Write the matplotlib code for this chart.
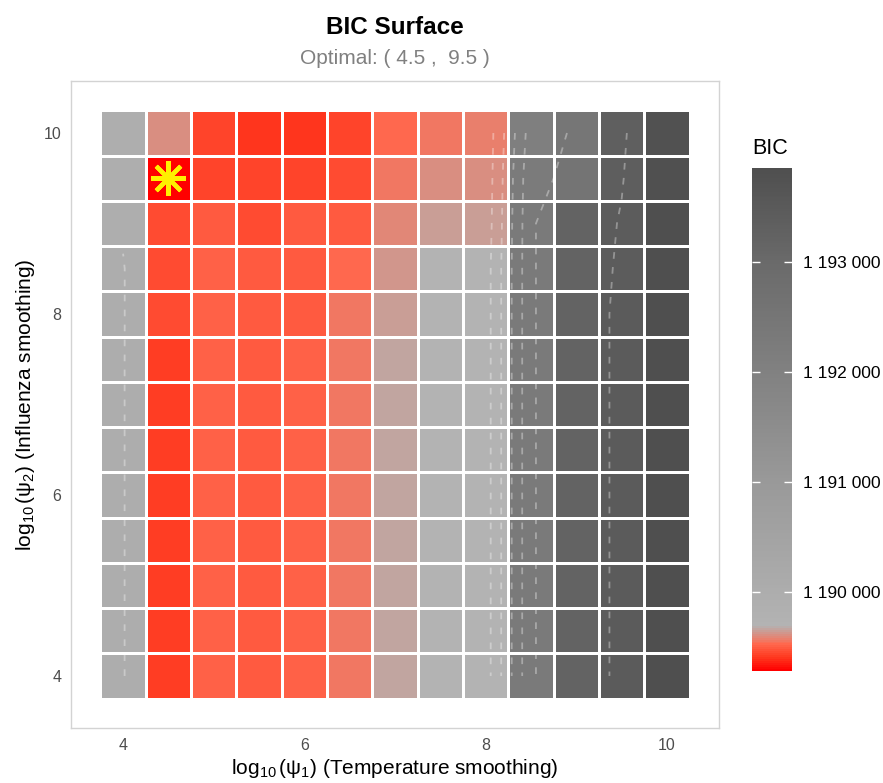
import numpy as np
import matplotlib.pyplot as plt
from matplotlib.colors import LinearSegmentedColormap, Normalize
from matplotlib.ticker import FuncFormatter

plt.rcParams['font.family'] = ['Liberation Sans', 'DejaVu Sans']
plt.rcParams['mathtext.fontset'] = 'custom'
plt.rcParams['mathtext.rm'] = 'Liberation Sans'
plt.rcParams['mathtext.it'] = 'Liberation Sans:italic'
plt.rcParams['mathtext.bf'] = 'Liberation Sans:bold'

# grid of smoothing parameters (log10 scale)
psi1 = [4.0, 4.5, 5.0, 5.5, 6.0, 6.5, 7.0, 7.5, 8.0, 8.5, 9.0, 9.5, 10.0]
psi2 = [4.0, 4.5, 5.0, 5.5, 6.0, 6.5, 7.0, 7.5, 8.0, 8.5, 9.0, 9.5, 10.0]

# BIC values, one row per psi2 (bottom to top), columns follow psi1
bic = [
    [1190020, 1189415, 1189505, 1189480, 1189505, 1189555, 1189661, 1189700, 1189710, 1192300, 1193206, 1193471, 1193850],
    [1190020, 1189415, 1189505, 1189480, 1189505, 1189555, 1189661, 1189700, 1189710, 1192300, 1193206, 1193471, 1193850],
    [1190020, 1189415, 1189505, 1189480, 1189505, 1189555, 1189661, 1189700, 1189710, 1192300, 1193206, 1193471, 1193850],
    [1190020, 1189415, 1189505, 1189480, 1189505, 1189555, 1189661, 1189700, 1189710, 1192300, 1193206, 1193471, 1193850],
    [1190020, 1189415, 1189505, 1189480, 1189505, 1189555, 1189661, 1189700, 1189710, 1192300, 1193206, 1193471, 1193850],
    [1190020, 1189415, 1189505, 1189480, 1189505, 1189555, 1189661, 1189700, 1189710, 1192300, 1193206, 1193471, 1193850],
    [1190020, 1189415, 1189505, 1189480, 1189505, 1189555, 1189661, 1189700, 1189710, 1192300, 1193206, 1193471, 1193850],
    [1190020, 1189420, 1189505, 1189480, 1189505, 1189558, 1189661, 1189700, 1189710, 1192300, 1193206, 1193471, 1193850],
    [1190020, 1189455, 1189500, 1189480, 1189490, 1189555, 1189643, 1189700, 1189710, 1192300, 1193206, 1193471, 1193850],
    [1190020, 1189455, 1189500, 1189480, 1189490, 1189530, 1189625, 1189700, 1189710, 1192300, 1193206, 1193447, 1193850],
    [1189960, 1189455, 1189480, 1189460, 1189480, 1189480, 1189603, 1189643, 1189643, 1192300, 1193206, 1193422, 1193850],
    [1189960, 1189282, 1189440, 1189440, 1189440, 1189455, 1189554, 1189605, 1189605, 1192250, 1192550, 1193380, 1193800],
    [1189960, 1189612, 1189427, 1189400, 1189400, 1189440, 1189520, 1189564, 1189571, 1192090, 1192480, 1193350, 1193780],
]

contour_levels = [1190000, 1190600, 1191200, 1191800, 1192400, 1193400]
best = (4.5, 9.5)
cbar_ticks = [1190000, 1191000, 1192000, 1193000]

# colour scale: red near the minimum, grey above
scale_vals = [1189282, 1189400, 1189520, 1189690, 1191000, 1192000, 1193000, 1193850]
scale_cols = ['#FF0000', '#FF3A20', '#FF6A50', '#B3B3B3', '#999999', '#818181', '#6A6A6A', '#4F4F4F']

Z = np.array(bic, dtype=float)
vmin, vmax = Z.min(), Z.max()
pos = np.clip([(v - vmin) / (vmax - vmin) for v in scale_vals], 0, 1)
pos[0], pos[-1] = 0.0, 1.0
cmap = LinearSegmentedColormap.from_list('bic', list(zip(pos, scale_cols)))
norm = Normalize(vmin=vmin, vmax=vmax)

fig = plt.figure(figsize=(8.83, 7.83), dpi=100)
ax = fig.add_axes([71/883, 1 - 728/783, 648/883, 647/783])

mesh = ax.pcolormesh(psi1, psi2, Z, shading='nearest', cmap=cmap, norm=norm,
                     edgecolors='white', linewidth=0.8)
ax.contour(psi1, psi2, Z, levels=contour_levels, colors='white', alpha=0.35,
           linewidths=1.3, linestyles=[(0, (3.7, 4.6))])
ax.plot(best[0], best[1], marker=(8, 2, 0), ms=25, mew=3, color='#FFF000', ls='none')

ax.set_xlim(3.425, 10.575)
ax.set_ylim(3.425, 10.575)
ax.set_xticks([4, 6, 8, 10])
ax.set_yticks([4, 6, 8, 10])
ax.tick_params(length=0, labelsize=11.5, labelcolor='#4D4D4D', pad=7)
for s in ax.spines.values():
    s.set_color('#D3D3D3')
    s.set_linewidth(1)

ax.set_xlabel(r'$\log_{10}(\mathrm{\psi}_1)$ (Temperature smoothing)', fontsize=15, labelpad=3)
ax.set_ylabel(r'$\log_{10}(\mathrm{\psi}_2)$ (Influenza smoothing)', fontsize=15, labelpad=5)

fig.text(395/883, 1 - 27/783, 'BIC Surface', ha='center', va='center',
         fontsize=17.5, weight='bold')
fig.text(395/883, 1 - 59/783, 'Optimal: ( 4.5 ,  9.5 )', ha='center', va='center',
         fontsize=15, color='#808080')

cax = fig.add_axes([752/883, 1 - 671/783, 40/883, 503/783])
cb = fig.colorbar(mesh, cax=cax, ticks=cbar_ticks)
cb.outline.set_visible(False)
cax.yaxis.set_ticks_position('both')
cax.tick_params(direction='in', length=6, width=1, color='white',
                labelleft=False, labelright=True, labelsize=12.5, pad=8)
cax.yaxis.set_major_formatter(FuncFormatter(lambda v, p: f'{int(round(v)):,}'.replace(',', ' ')))
fig.text(752/883, 1 - 148/783, 'BIC', ha='left', va='center', fontsize=15.5)

fig.savefig('out.png', dpi=100)
